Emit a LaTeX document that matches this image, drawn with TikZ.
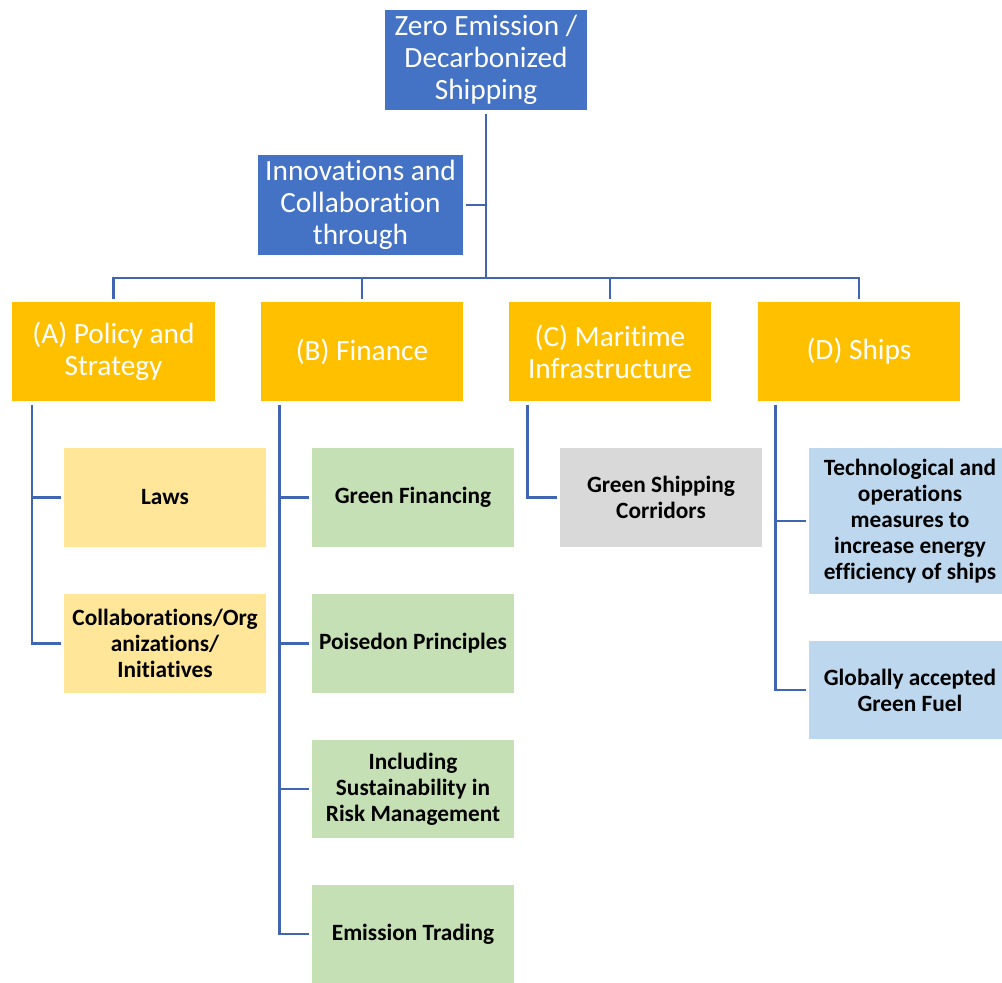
\documentclass[tikz,border=0pt]{standalone}
\usepackage{fontspec}
\setmainfont{Carlito}[Ligatures=NoCommon]
\usepackage{tikz}
\usetikzlibrary{positioning, calc}

\definecolor{topblue}{HTML}{4472C4}
\definecolor{linkblue}{HTML}{3F65B3}
\definecolor{gold}{HTML}{FFC000}
\definecolor{paleyellow}{HTML}{FFE699}
\definecolor{palegreen}{HTML}{C5E0B4}
\definecolor{palegray}{HTML}{D9D9D9}
\definecolor{paleblue}{HTML}{BDD7EE}

\begin{document}
\begin{tikzpicture}[
    x=0.75pt, y=-0.75pt,
    topbox/.style={fill=topblue, text=white, minimum width=152pt, minimum height=75pt,
                   inner sep=0pt, align=center, font=\fontsize{22}{24}\selectfont},
    branch/.style={fill=gold, text=white, minimum width=152pt, minimum height=74pt,
                   inner sep=0pt, align=center, font=\fontsize{22}{24}\selectfont},
    leaf/.style={minimum width=151.5pt, minimum height=74pt, inner sep=0pt,
                 align=center, font=\fontsize{17.5}{19.5}\selectfont\bfseries},
    link/.style={draw=linkblue, line width=2pt}
  ]
    \useasboundingbox (0,0) rectangle (1002,982);

    % top of the tree
    \node[topbox] (root) at (486,60) {Zero Emission /\\Decarbonized\\Shipping};
    \node[topbox, minimum width=154pt] (innov) at (360.5,205) {Innovations and\\Collaboration\\through};
    \coordinate (hub) at (486,278);

    % four pillars
    \node[branch] (polA) at (113.5,351.5) {(A) Policy and\\Strategy};
    \node[branch] (finB) at (362,351.5) {(B) Finance};
    \node[branch] (marC) at (610,351.5) {(C) Maritime\\Infrastructure};
    \node[branch] (shipD) at (859,351.5) {(D) Ships};

    % leaves
    \node[leaf, fill=paleyellow] (laws) at (165,497.5) {Laws};
    \node[leaf, fill=paleyellow] (collab) at (165,643.5) {Collaborations/Org\\anizations/\\Initiatives};
    \node[leaf, fill=palegreen] (greenfin) at (413,497.5) {Green Financing};
    \node[leaf, fill=palegreen] (poseidon) at (413,643.5) {Poisedon Principles};
    \node[leaf, fill=palegreen] (risk) at (413,789) {Including\\Sustainability in\\Risk Management};
    \node[leaf, fill=palegreen] (trading) at (413,934) {Emission Trading};
    \node[leaf, fill=palegray] (corridor) at (661,497.5) {Green Shipping\\Corridors};
    \node[leaf, fill=paleblue, minimum height=110pt] (tech) at (910,521)
      {Technological and\\operations\\measures to\\increase energy\\efficiency of ships};
    \node[leaf, fill=paleblue] (fuel) at (910,690) {Globally accepted\\Green Fuel};

    \draw[link, shorten <=3pt] (root) -- (hub);
    \draw[link, shorten <=2pt] (innov.east) -- (innov.east -| hub);
    \foreach \b in {polA, finB, marC, shipD}
      \draw[link, shorten >=2pt] (hub) -| (\b.north);

    \draw[link, shorten >=2pt] ($(polA.south west)+(20,4)$) |- (laws.west);
    \draw[link, shorten >=2pt] ($(polA.south west)+(20,4)$) |- (collab.west);
    \foreach \k in {greenfin, poseidon, risk, trading}
      \draw[link, shorten >=2pt] ($(finB.south west)+(19,4)$) |- (\k.west);
    \draw[link, shorten >=2pt] ($(marC.south west)+(19,4)$) |- (corridor.west);
    \draw[link, shorten >=2pt] ($(shipD.south west)+(18,4)$) |- (tech.west);
    \draw[link, shorten >=2pt] ($(shipD.south west)+(18,4)$) |- (fuel.west);
  \end{tikzpicture}
\end{document}
